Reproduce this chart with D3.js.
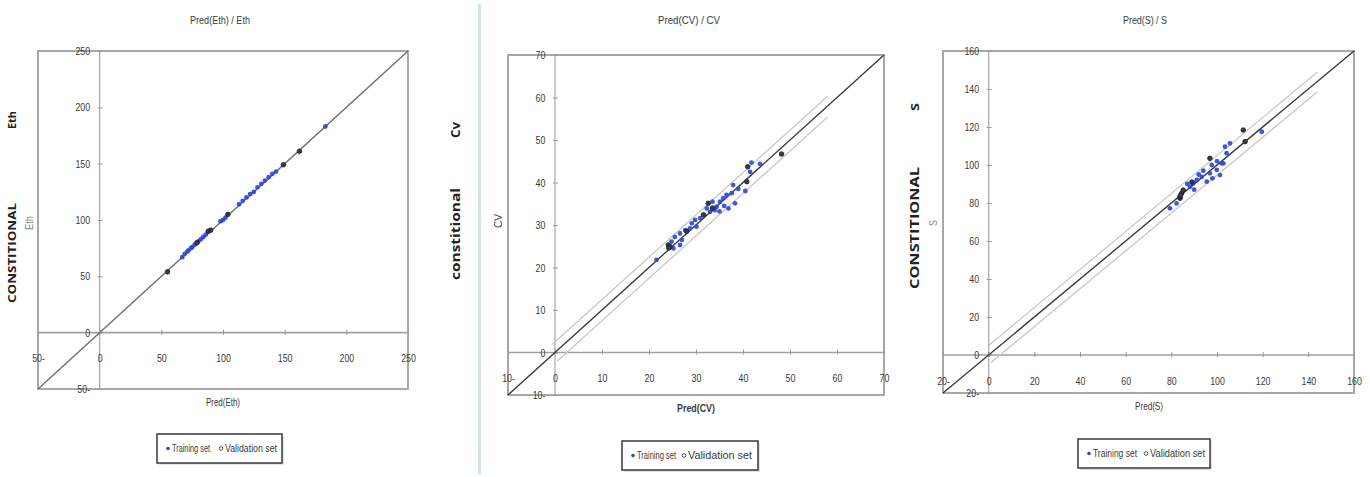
<!DOCTYPE html>
<html>
<head>
<meta charset="utf-8">
<script src="https://cdn.jsdelivr.net/npm/d3@7"></script>
<style>
  body { margin: 0; background: #fff; }
  svg { display: block; }
  text { font-family: 'Liberation Sans', 'DejaVu Sans', sans-serif; fill: #3a3a3a; }
  .ticklab { font-size: 11px; }
  .title { font-size: 11px; }
  .axtitle { font-size: 11px; }
  .ylab { font-family: 'Open Sans', 'DejaVu Sans', sans-serif; font-weight: bold; fill: #222; }
  .leg { font-size: 10px; }
</style>
</head>
<body>
<div id="chart"></div>
<script>
'use strict';
const ethTrain = [[67, 67], [69, 70], [71, 72], [72, 73], [74, 75], [75, 76], [77, 78], [78, 79], [80, 81], [82, 83],
    [84, 85], [86, 87], [98, 99], [100, 100], [102, 102], [113, 114], [116, 117], [119, 120], [122, 123], [125, 125],
    [128, 129], [131, 132], [134, 135], [137, 138], [140, 141], [143, 143], [183, 183]]
const ethValid = [[55, 54], [79, 80], [88, 90], [90, 91], [104, 105], [149, 149], [162, 161]]
const ethTicks = [-50, 0, 50, 100, 150, 200, 250]
const ethTickLabels = ['50-', '0', '50', '100', '150', '200', '250']

const cvTrain = [[21.6, 21.8], [25.2, 24.5], [26.6, 25.3], [24.8, 26.1], [25.5, 27.2], [27, 26.5], [26.6, 28],
    [27.7, 28.8], [28.7, 29.2], [30.1, 29.6], [29.1, 30.4], [29.8, 31.2], [30.9, 31.6], [33, 33.1], [32.3, 33.9],
    [34.4, 34.3], [35.1, 35.5], [35.8, 36.3], [36.5, 37.1], [37.6, 37.5], [36.9, 33.9], [38.3, 35.1], [37.9, 39.4],
    [41.5, 42.5], [41.8, 44.7], [43.6, 44.4], [34, 33.5], [33.5, 35.5], [35, 33.2], [39, 38.5], [36, 34.5], [40.5, 38]]
const cvValid = [[48.2, 46.7], [40.8, 40.2], [41, 43.7], [32.6, 35.1], [31.6, 32.4], [24.1, 25.3], [24.5, 24.9],
    [24.2, 24.6], [33.5, 34], [28, 28.5]]
const cvUpper = [[-0.5, 2], [58, 60.3]]
const cvLower = [[0.5, -2], [58, 55.4]]
const cvTicks = [-10, 0, 10, 20, 30, 40, 50, 60, 70]
const cvTickLabels = ['10-', '0', '10', '20', '30', '40', '50', '60', '70']

const sTrain = [[79.4, 77.2], [82.3, 79.8], [88.2, 88.6], [89.6, 90.4], [91.1, 92.1], [93.3, 93.8], [95.5, 91.2],
    [96.9, 95.6], [97.7, 100], [99.9, 97.4], [101.3, 94.7], [102.8, 100.9], [104.2, 106.2], [103.5, 109.6],
    [105.7, 111.4], [102, 100.9], [119.6, 117.5], [90, 87], [92, 95], [94, 97], [98, 93], [100, 102], [87, 90]]
const sValid = [[83.8, 82.5], [84.5, 85.1], [85.2, 86.8], [83.8, 83.3], [84, 84], [96.9, 103.5], [111.5, 118.4],
    [112.3, 112.3], [89, 91]]
const sUpper = [[0, 5], [144, 149]]
const sLower = [[1, -4], [144, 138.5]]
const sTicks = [-20, 0, 20, 40, 60, 80, 100, 120, 140, 160]
const sTickLabels = ['20-', '0', '20', '40', '60', '80', '100', '120', '140', '160']

const svg = d3.select('#chart').append('svg')
    .attr('width', 1370)
    .attr('height', 477)

// squeeze a text to a given width (reference uses a narrow font)
function fit(sel, len) {
    return sel.attr('textLength', len).attr('lengthAdjust', 'spacingAndGlyphs')
}

// divider between first and second chart
svg.append('rect')
    .attr('x', 478).attr('y', 4)
    .attr('width', 3).attr('height', 470)
    .attr('fill', '#d3e3ea')

function drawPanel(p) {
    const x = d3.scaleLinear().domain(p.domain).range([p.left, p.right])
    const y = d3.scaleLinear().domain(p.domain).range([p.bottom, p.top])
    const g = svg.append('g')

    // plot frame
    g.append('rect')
        .attr('x', p.left).attr('y', p.top)
        .attr('width', p.right - p.left).attr('height', p.bottom - p.top)
        .attr('fill', 'none').attr('stroke', '#a8a8a8').attr('stroke-width', 2)

    // zero lines
    g.append('line')
        .attr('x1', p.left).attr('x2', p.right).attr('y1', y(0)).attr('y2', y(0))
        .attr('stroke', '#a0a0a0').attr('stroke-width', 1.6)
    g.append('line')
        .attr('x1', x(0)).attr('x2', x(0)).attr('y1', p.top).attr('y2', p.bottom)
        .attr('stroke', '#a8a8a8').attr('stroke-width', 1.2)

    // y axis ticks + labels
    const yAxis = d3.axisLeft(y).tickValues(p.ticks).tickSize(0).tickPadding(12)
        .tickFormat((d, i) => p.labels[i])
    const ya = g.append('g').attr('transform', `translate(${x(0)},0)`).call(yAxis)
    ya.select('.domain').remove()
    ya.selectAll('text').attr('class', 'ticklab').attr('fill', '#3a3a3a').attr('transform', 'scale(0.8,1)')
    ya.selectAll('.tick').append('line').attr('x1', -2).attr('x2', 3).attr('stroke', '#999')

    // x axis ticks + labels
    const xAxis = d3.axisBottom(x).tickValues(p.ticks).tickSize(0).tickPadding(22)
        .tickFormat((d, i) => p.labels[i])
    const xa = g.append('g').attr('transform', `translate(0,${y(0)})`).call(xAxis)
    xa.select('.domain').remove()
    xa.selectAll('text').attr('class', 'ticklab').attr('fill', '#3a3a3a').attr('transform', 'scale(0.8,1)')
    xa.selectAll('.tick').append('line').attr('y1', -3).attr('y2', 2).attr('stroke', '#999')

    // confidence bands
    const line = d3.line().x(d => x(d[0])).y(d => y(d[1]))
    if (p.upper) {
        [p.upper, p.lower].forEach(b => {
            g.append('path').datum(b).attr('d', line)
                .attr('fill', 'none').attr('stroke', '#c8c8c8').attr('stroke-width', 1.3)
        })
    }

    // identity line
    g.append('path').datum([[p.domain[0], p.domain[0]], [p.domain[1], p.domain[1]]])
        .attr('d', line).attr('fill', 'none')
        .attr('stroke', p.diag).attr('stroke-width', 1.4)

    // points
    g.selectAll('.tr').data(p.train).join('circle')
        .attr('cx', d => x(d[0])).attr('cy', d => y(d[1]))
        .attr('r', 2.4).attr('fill', '#2c46d8').attr('fill-opacity', 0.9)
    g.selectAll('.va').data(p.valid).join('circle')
        .attr('cx', d => x(d[0])).attr('cy', d => y(d[1]))
        .attr('r', 2.3).attr('fill', '#3a3a4a').attr('stroke', '#1a1a2a').attr('stroke-width', 0.8)

    // titles
    fit(g.append('text').attr('class', 'title')
        .attr('x', p.titleX - p.titleW / 2).attr('y', 24).text(p.title), p.titleW)
    fit(g.append('text').attr('class', 'axtitle')
        .attr('x', p.xTitleX - p.xTitleW / 2).attr('y', p.xTitleY).attr('font-weight', p.xTitleBold ? 'bold' : 'normal')
        .text(p.xTitle), p.xTitleW)

    // legend
    const L = p.legend
    g.append('rect').attr('x', L.x + 2).attr('y', L.y + 2).attr('width', L.w).attr('height', L.h)
        .attr('fill', '#e2e2e2')
    g.append('rect').attr('x', L.x).attr('y', L.y).attr('width', L.w).attr('height', L.h)
        .attr('fill', '#fff').attr('stroke', '#444').attr('stroke-width', 1.6)
    const ly = L.y + L.h / 2
    g.append('circle').attr('cx', L.x + 11).attr('cy', ly).attr('r', 1.8).attr('fill', '#2c46d8')
    fit(g.append('text').attr('class', 'leg').attr('font-size', L.fs).attr('x', L.x + 15).attr('y', ly + 3.5)
        .text('Training set'), L.tw)
    g.append('circle').attr('cx', L.x + L.vx).attr('cy', ly).attr('r', 1.8)
        .attr('fill', 'none').attr('stroke', '#444').attr('stroke-width', 0.9)
    fit(g.append('text').attr('class', 'leg').attr('font-size', L.fs).attr('x', L.x + L.vx + 4).attr('y', ly + 3.5)
        .text('Validation set'), L.vw)

    // rotated y labels
    p.ylabels.forEach(l => {
        const t = g.append('text').attr('class', l.bold ? 'ylab' : 'title')
            .attr('transform', `translate(${l.x},${l.y}) rotate(-90)`)
            .attr('x', -l.len / 2)
            .attr('font-size', l.size)
            .style('fill', l.color || null)
            .text(l.text)
        fit(t, l.len)
    })
}

drawPanel({
    domain: [-50, 250], left: 38, right: 408, top: 51, bottom: 389,
    ticks: ethTicks, labels: ethTickLabels, train: ethTrain, valid: ethValid,
    diag: '#6e6e6e', title: 'Pred(Eth) / Eth', titleX: 220, titleW: 60,
    xTitle: 'Pred(Eth)', xTitleX: 223, xTitleY: 406, xTitleW: 34,
    legend: { x: 157, y: 434, w: 125, h: 29, vx: 64, tw: 38, vw: 52, fs: 10 },
    ylabels: [
        { text: 'Eth', x: 16, y: 120, size: 10, bold: true, len: 18 },
        { text: 'CONSTITIONAL', x: 16, y: 253, size: 11, bold: true, len: 100 },
        { text: 'Eth', x: 33, y: 223, size: 8, color: '#888', len: 14 }
    ]
})

drawPanel({
    domain: [-10, 70], left: 508, right: 884, top: 55, bottom: 395,
    ticks: cvTicks, labels: cvTickLabels, train: cvTrain, valid: cvValid,
    upper: cvUpper, lower: cvLower,
    diag: '#3c3c3c', title: 'Pred(CV) / CV', titleX: 689, titleW: 62,
    xTitle: 'Pred(CV)', xTitleX: 696, xTitleY: 412, xTitleBold: true, xTitleW: 38,
    legend: { x: 622, y: 441, w: 136, h: 29, vx: 62, tw: 39, vw: 64, fs: 11 },
    ylabels: [
        { text: 'Cv', x: 460, y: 130, size: 12, bold: true, len: 16 },
        { text: 'constitional', x: 460, y: 234, size: 12, bold: true, len: 92 },
        { text: 'CV', x: 502, y: 221, size: 10, color: '#444', len: 14 }
    ]
})

drawPanel({
    domain: [-20, 160], left: 943, right: 1354, top: 51, bottom: 393,
    ticks: sTicks, labels: sTickLabels, train: sTrain, valid: sValid,
    upper: sUpper, lower: sLower,
    diag: '#3c3c3c', title: 'Pred(S) / S', titleX: 1145, titleW: 44,
    xTitle: 'Pred(S)', xTitleX: 1149, xTitleY: 410, xTitleW: 28,
    legend: { x: 1078, y: 439, w: 132, h: 29, vx: 68, tw: 44, vw: 55, fs: 10 },
    ylabels: [
        { text: 'S', x: 919, y: 107, size: 11, bold: true, len: 8 },
        { text: 'CONSTITIONAL', x: 919, y: 228, size: 12, bold: true, len: 122 },
        { text: 'S', x: 937, y: 223, size: 8, color: '#888', len: 6 }
    ]
})
</script>
</body>
</html>
